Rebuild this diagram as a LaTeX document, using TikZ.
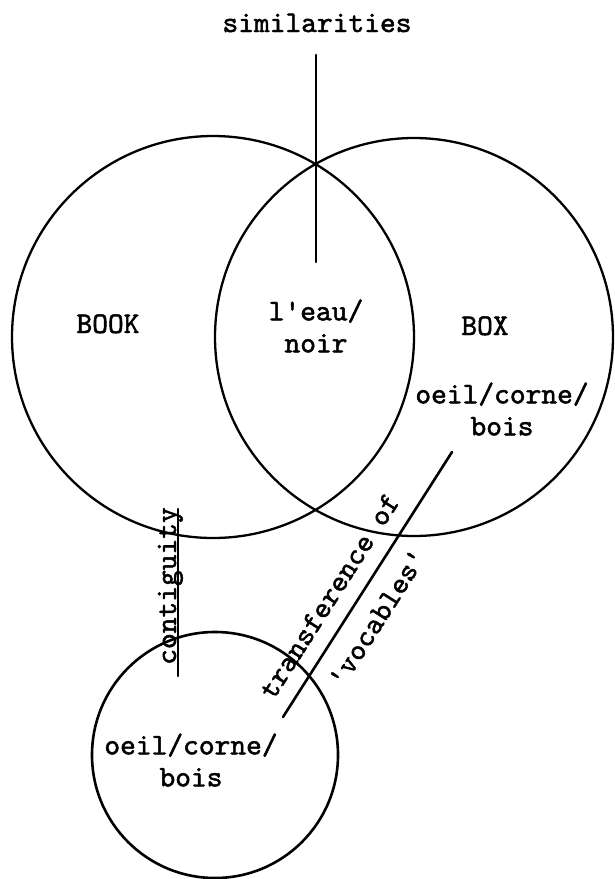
\documentclass[tikz,border=0pt]{standalone}
\usepackage{fontspec}
\newfontfamily\tw{lmmono10-regular.otf}[AutoFakeBold=1.6]
\begin{document}
\begin{tikzpicture}[x=1pt,y=-1pt,
  lbl/.style={font=\tw\bfseries\fontsize{30}{32}\selectfont, inner sep=0pt},
  ring/.style={draw, circle, line width=2.3pt, inner sep=0pt},
  ln/.style={line width=2.6pt, line cap=round}]
\useasboundingbox (0,0) rectangle (615,879);
% circles
\node[ring, minimum size=402pt] (book) at (213,337) {};
\node[ring, minimum size=398pt] (box) at (414,337) {};
\node[ring, line width=2.6pt, minimum size=246pt] (obj) at (215,755) {};
% labels
\node[lbl, anchor=base] (sim) at (317,32) {similarities};
\node[lbl, anchor=base] (bookl) at (108,333) {BOOK};
\node[lbl, anchor=base] (boxl) at (485,335) {BOX};
\node[lbl, align=center] (common) at (316,326) {l\textquotesingle eau/\\noir};
\node[lbl, align=center] (boxwords) at (502,409) {oeil/corne/\\bois};
\node[lbl, align=center] (objwords) at (191,760) {oeil/corne/\\bois};
% connectors
\coordinate (s1) at (316,55);
\coordinate (s2) at (316,262);
\draw[ln] (s1) -- (s2);
\coordinate (c1) at (178,509);
\coordinate (c2) at (178,676);
\draw[ln] (c1) -- (c2);
\coordinate (t1) at (283,717);
\coordinate (t2) at (452,452);
\draw[ln] (t1) -- (t2);
% connector labels
\node[lbl, rotate=90, anchor=base] (contig) at (176,586) {contiguity};
\node[lbl, rotate=57.5, anchor=base] (trans) at (337,601) {transference of};
\node[lbl, rotate=57.5, anchor=base] (voc) at (385,623) {\textquotesingle vocables\textquotesingle};
\end{tikzpicture}
\end{document}
